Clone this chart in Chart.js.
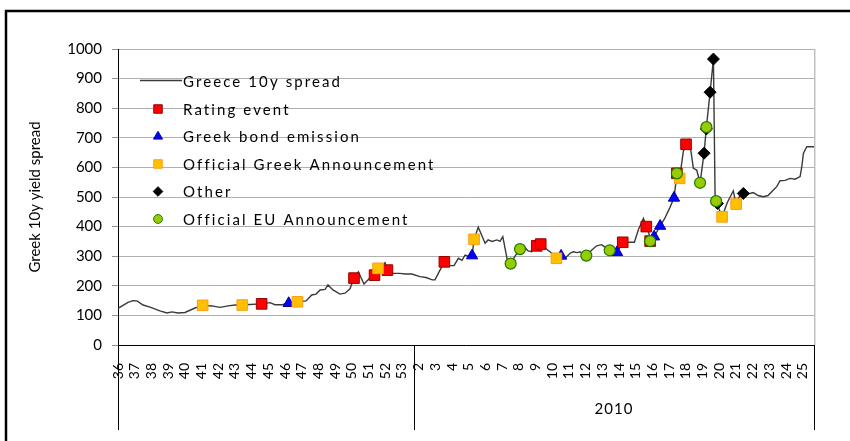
<!DOCTYPE html>
<html>
<head>
<meta charset="utf-8">
<script src="https://cdn.jsdelivr.net/npm/chart.js@4"></script>
<style>
	html, body { margin: 0; padding: 0; background: #ffffff; }
	canvas { display: block; }
</style>
</head>
<body>
<canvas id="spreadChart" width="850" height="441"></canvas>
<script>
// Week numbers on the x axis: 2009 weeks 36-53, then 2010 weeks 2-25
const weekLabels = ['36', '37', '38', '39', '40', '41', '42', '43', '44', '45', '46', '47', '48', '49', '50', '51', '52', '53',
	'2', '3', '4', '5', '6', '7', '8', '9', '10', '11', '12', '13', '14', '15', '16', '17', '18', '19', '20', '21', '22', '23', '24', '25'];
const yearGroups = ['', '2010'];
const yearBreak = 17.7; // where the 2010 group starts (in weeks from week 36)
const axisEnd = 41.69;

// Greece 10y spread (x = weeks since week 36 of 2009)
const spreadX = [0, 0.60, 0.90, 1.14, 1.50, 1.92, 2.51, 2.93, 3.23, 3.59, 4.01, 4.61, 5.07, 5.63, 6.11, 6.59, 7.01, 7.44, 7.90, 8.60,
	9.10, 9.40, 9.82, 10.22, 10.74, 11.26, 11.60, 11.86, 12.10, 12.40, 12.57, 12.87, 13.29, 13.59, 13.89, 14.13, 14.39, 14.73, 15.09, 15.36,
	15.57, 15.99, 16.13, 16.47, 16.89, 17.19, 17.59, 18.08, 18.44, 18.82, 18.98, 19.38, 19.54, 19.88, 20.12, 20.38, 20.60, 20.78, 20.96, 21.20,
	21.32, 21.57, 21.98, 22.16, 22.40, 22.69, 22.87, 23.04, 23.31, 23.51, 23.77, 24.07, 24.37, 24.55, 24.77, 25.07, 25.31, 25.63, 25.97, 26.25,
	26.53, 26.77, 27.07, 27.25, 27.49, 27.66, 27.83, 28.04, 28.37, 28.66, 28.96, 29.22, 29.44, 29.70, 29.88, 30.06, 30.22, 30.54, 30.92, 31.16,
	31.46, 31.63, 31.80, 31.86, 32.10, 32.46, 32.71, 33.05, 33.29, 33.46, 33.63, 33.85, 34.01, 34.21, 34.45, 34.65, 34.85, 35.09, 35.23, 35.45,
	35.65, 35.75, 35.81, 35.89, 36.17, 36.47, 36.84, 36.95, 37.01, 37.19, 37.44, 37.72, 38.04, 38.32, 38.64, 38.92, 39.24, 39.44, 39.64, 39.94,
	40.24, 40.54, 40.84, 40.94, 41.04, 41.24, 41.69];
const spreadY = [124, 144, 150, 149, 135, 128, 115, 108, 112, 108, 110, 125, 134, 132, 127, 132, 135, 135, 137, 139,
	143, 136, 136, 141, 146, 149, 169, 172, 186, 188, 203, 186, 172, 175, 190, 226, 247, 206, 227, 236,
	259, 278, 253, 242, 242, 240, 240, 231, 228, 220, 220, 264, 281, 268, 268, 293, 286, 304, 300, 302,
	357, 398, 344, 355, 350, 355, 350, 366, 287, 275, 300, 324, 330, 318, 315, 335, 341, 325, 310, 293,
	301, 293, 310, 315, 312, 315, 307, 302, 321, 335, 339, 328, 320, 315, 313, 330, 347, 347, 347, 390,
	428, 400, 375, 351, 366, 402, 425, 465, 497, 575, 565, 655, 678, 693, 597, 591, 548, 648, 736, 854,
	966, 501, 486, 473, 433, 480, 521, 490, 476, 500, 512, 510, 515, 505, 501, 505, 524, 535, 555, 556,
	563, 560, 569, 602, 648, 670, 670];

// Event markers
const ratingX = [8.60, 14.13, 15.36, 16.13, 19.54, 25.07, 25.31, 30.22, 31.63, 31.86, 33.46, 34.01];
const ratingY = [139, 226, 236, 253, 281, 335, 341, 347, 400, 351, 580, 678];
const bondX = [10.22, 21.20, 26.53, 29.88, 32.10, 32.46, 33.29];
const bondY = [141, 302, 301, 313, 366, 402, 497];
const greekX = [5.07, 7.44, 10.74, 15.57, 21.32, 26.25, 33.63, 36.17, 37.01];
const greekY = [134, 135, 146, 259, 357, 293, 563, 433, 476];
const otherX = [35.09, 35.23, 35.45, 35.65, 35.89, 37.44];
const otherY = [648, 730, 854, 966, 478, 512];
const euX = [23.51, 24.07, 28.04, 29.44, 31.86, 33.46, 34.85, 35.23, 35.81];
const euY = [275, 324, 302, 320, 351, 580, 548, 736, 486];

const FONT = 'Lato, "Open Sans", sans-serif';

function toPoints(xs, ys) {
	return xs.map((x, i) => ({ x: x, y: ys[i] }));
}

// Legend inside the plot, plus the year grouping under the axis and the frame
const decorPlugin = {
	id: 'decor',
	afterDraw(chart) {
		const ctx = chart.ctx;
		const area = chart.chartArea;
		const xs = chart.scales.x;
		ctx.save();

		// plot frame right side
		ctx.strokeStyle = '#a0a0a0';
		ctx.lineWidth = 1;
		ctx.beginPath();
		ctx.moveTo(area.right + 0.5, area.top);
		ctx.lineTo(area.right + 0.5, area.bottom);
		ctx.stroke();

		// year group separators
		const groupBottom = 430;
		ctx.strokeStyle = '#000000';
		[0, yearBreak, axisEnd].forEach(v => {
			const px = Math.round(xs.getPixelForValue(v)) + 0.5;
			ctx.beginPath();
			ctx.moveTo(px, area.bottom);
			ctx.lineTo(px, groupBottom);
			ctx.stroke();
		});
		ctx.fillStyle = '#000000';
		ctx.font = '15px ' + FONT;
		ctx.textAlign = 'center';
		ctx.textBaseline = 'middle';
		ctx.letterSpacing = '1px';
		const mid = (xs.getPixelForValue(yearBreak) + xs.getPixelForValue(axisEnd)) / 2;
		ctx.fillText(yearGroups[1], mid, 409);

		// outer border
		ctx.letterSpacing = '0px';
		ctx.strokeStyle = '#000000';
		ctx.lineWidth = 2.5;
		ctx.strokeRect(6, 11, 900, 500);

		// legend
		ctx.font = '15px ' + FONT;
		ctx.letterSpacing = '2.1px';
		ctx.textAlign = 'left';
		chart.data.datasets.forEach((ds, i) => {
			const y = 81.5 + i * 27.5;
			if (ds.showLine) {
				ctx.strokeStyle = ds.borderColor;
				ctx.lineWidth = ds.borderWidth;
				ctx.beginPath();
				ctx.moveTo(140, y - 1);
				ctx.lineTo(182, y - 1);
				ctx.stroke();
			} else {
				ctx.fillStyle = ds.backgroundColor;
				ctx.strokeStyle = ds.borderColor;
				ctx.lineWidth = 1;
				Chart.helpers.drawPoint(ctx, { pointStyle: ds.pointStyle, radius: ds.pointRadius * 0.8, rotation: 0, borderWidth: 1 }, 158, y);
			}
			ctx.fillStyle = '#000000';
			ctx.fillText(ds.label, 183, y + 1);
		});
		ctx.restore();
	}
};

const ctx = document.getElementById('spreadChart').getContext('2d');
const chart = new Chart(ctx, {
	type: 'scatter',
	data: {
		datasets: [
			{
				label: 'Greece 10y spread',
				data: toPoints(spreadX, spreadY),
				showLine: true,
				borderColor: '#3a3a3a',
				backgroundColor: '#3a3a3a',
				borderWidth: 1.4,
				pointRadius: 0,
				tension: 0,
				order: 10
			},
			{
				label: 'Rating event',
				data: toPoints(ratingX, ratingY),
				pointStyle: 'rect',
				pointRadius: 7.5,
				backgroundColor: '#ff0000',
				borderColor: '#990000',
				borderWidth: 1,
				order: 5
			},
			{
				label: 'Greek bond emission',
				data: toPoints(bondX, bondY),
				pointStyle: 'triangle',
				pointRadius: 6.5,
				backgroundColor: '#0000ff',
				borderColor: '#000099',
				borderWidth: 1,
				order: 4
			},
			{
				label: 'Official Greek Announcement',
				data: toPoints(greekX, greekY),
				pointStyle: 'rect',
				pointRadius: 7.5,
				backgroundColor: '#ffc000',
				borderColor: '#ff9c1a',
				borderWidth: 1,
				order: 3
			},
			{
				label: 'Other',
				data: toPoints(otherX, otherY),
				pointStyle: 'rectRot',
				pointRadius: 6,
				backgroundColor: '#000000',
				borderColor: '#000000',
				borderWidth: 1,
				order: 2
			},
			{
				label: 'Official EU Announcement',
				data: toPoints(euX, euY),
				pointStyle: 'circle',
				pointRadius: 5.5,
				backgroundColor: '#99cc00',
				borderColor: '#1f7a00',
				borderWidth: 1.2,
				order: 1
			}
		]
	},
	options: {
		responsive: false,
		animation: false,
		layout: {
			padding: { left: 22, top: 49, right: 35.7, bottom: 0 }
		},
		plugins: {
			legend: { display: false },
			tooltip: { enabled: false }
		},
		scales: {
			x: {
				type: 'linear',
				min: 0,
				max: axisEnd,
				afterFit: scale => { scale.height = 96; },
				afterBuildTicks: scale => {
					scale.ticks = weekLabels.map((w, i) => ({ value: i }));
				},
				ticks: {
					autoSkip: false,
					maxRotation: 90,
					minRotation: 90,
					padding: 10,
					color: '#000000',
					font: { family: FONT, size: 14 },
					callback: value => weekLabels[value]
				},
				grid: { display: false },
				border: { display: true, color: '#000000', width: 1 }
			},
			y: {
				min: 0,
				max: 1000,
				afterFit: scale => { scale.width = 96; },
				ticks: {
					stepSize: 100,
					padding: 10,
					color: '#000000',
					font: { family: FONT, size: 15 },
					callback: value => String(value)
				},
				grid: {
					color: '#b0b0b0',
					tickColor: '#909090',
					tickLength: 6
				},
				border: { display: true, color: '#000000', width: 1 },
				title: {
					display: true,
					text: 'Greek 10y yield spread',
					color: '#000000',
					font: { family: FONT, size: 15 }
				}
			}
		}
	},
	plugins: [decorPlugin]
});
</script>
</body>
</html>
